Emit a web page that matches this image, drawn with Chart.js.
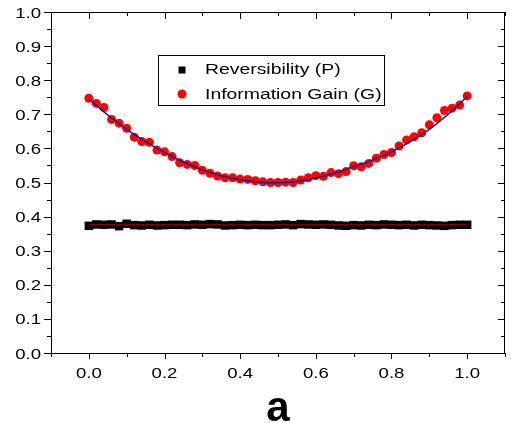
<!DOCTYPE html>
<html>
<head>
<meta charset="utf-8">
<script src="https://cdn.jsdelivr.net/npm/chart.js@4.4.0/dist/chart.umd.min.js"></script>
<style>
  body { margin: 0; background: #fff; }
  #wrap { width: 511px; height: 423px; }
</style>
</head>
<body>
<div id="wrap"><canvas id="chart"></canvas></div>
<script>
// data
const xValues = [0.00, 0.02, 0.04, 0.06, 0.08, 0.10, 0.12, 0.14, 0.16, 0.18,
                 0.20, 0.22, 0.24, 0.26, 0.28, 0.30, 0.32, 0.34, 0.36, 0.38,
                 0.40, 0.42, 0.44, 0.46, 0.48, 0.50, 0.52, 0.54, 0.56, 0.58,
                 0.60, 0.62, 0.64, 0.66, 0.68, 0.70, 0.72, 0.74, 0.76, 0.78,
                 0.80, 0.82, 0.84, 0.86, 0.88, 0.90, 0.92, 0.94, 0.96, 0.98, 1.00];

const reversibility = [0.373, 0.377, 0.376, 0.377, 0.372, 0.379, 0.375, 0.374, 0.376, 0.374,
                       0.375, 0.376, 0.376, 0.375, 0.377, 0.376, 0.378, 0.377, 0.374, 0.375,
                       0.376, 0.375, 0.376, 0.375, 0.375, 0.376, 0.377, 0.375, 0.378, 0.377,
                       0.376, 0.377, 0.376, 0.374, 0.373, 0.375, 0.374, 0.376, 0.375, 0.377,
                       0.376, 0.375, 0.376, 0.374, 0.376, 0.375, 0.374, 0.373, 0.375, 0.376, 0.376];

const infoGain = [0.747, 0.732, 0.720, 0.685, 0.674, 0.659, 0.633, 0.620, 0.618, 0.595,
                  0.590, 0.576, 0.558, 0.553, 0.550, 0.536, 0.527, 0.519, 0.514, 0.514,
                  0.510, 0.509, 0.505, 0.502, 0.500, 0.500, 0.501, 0.500, 0.507, 0.514,
                  0.520, 0.518, 0.529, 0.526, 0.532, 0.549, 0.546, 0.556, 0.571, 0.582,
                  0.588, 0.607, 0.625, 0.634, 0.646, 0.669, 0.690, 0.711, 0.718, 0.727, 0.754];

// fitted curves
const fitX = [0, 0.05, 0.1, 0.15, 0.2, 0.25, 0.3, 0.35, 0.4, 0.45, 0.5,
              0.55, 0.6, 0.65, 0.7, 0.75, 0.8, 0.85, 0.9, 0.95, 1.0];
const gainFit = [0.745, 0.698, 0.656, 0.620, 0.588, 0.560, 0.537, 0.520, 0.508, 0.501, 0.499,
                 0.503, 0.513, 0.528, 0.546, 0.566, 0.590, 0.620, 0.656, 0.700, 0.752];
const revFitX = [0, 1];
const revFit = [0.376, 0.376];

const xTicks = [0.0, 0.2, 0.4, 0.6, 0.8, 1.0];
const yTicks = [0.0, 0.1, 0.2, 0.3, 0.4, 0.5, 0.6, 0.7, 0.8, 0.9, 1.0];
const legendLabels = ["Reversibility (P)", "Information Gain (G)"];
const panelLabel = "a";

const pts = (xs, ys) => xs.map((x, i) => ({ x: x, y: ys[i] }));

// draws text stretched horizontally like the original export
function stretchedText(ctx, text, x, y, font, align, sx) {
    ctx.save();
    ctx.translate(x, y);
    ctx.scale(sx, 1);
    ctx.font = font;
    ctx.textAlign = align;
    ctx.textBaseline = "alphabetic";
    ctx.fillStyle = "#000";
    ctx.fillText(text, 0, 0);
    ctx.restore();
}

const framePlugin = {
    id: "frame",
    afterDraw(chart) {
        const ctx = chart.ctx;
        const a = chart.chartArea;
        const sx = chart.scales.x;
        const sy = chart.scales.y;
        ctx.save();
        ctx.strokeStyle = "#000";
        ctx.lineWidth = 1;
        ctx.strokeRect(Math.round(a.left) + 0.5, Math.round(a.top) + 0.5,
                       Math.round(a.right - a.left) - 1, Math.round(a.bottom - a.top));

        ctx.beginPath();
        // x ticks: major every 0.2, minor in between
        for (let v = -0.1; v <= 1.1001; v += 0.1) {
            const px = Math.round(sx.getPixelForValue(v)) + 0.5;
            const major = Math.abs(Math.round(v * 10) % 2) === 0;
            const len = major ? 6 : 4;
            ctx.moveTo(px, a.bottom); ctx.lineTo(px, a.bottom + len);
            const lt = major ? 7 : 4;
            ctx.moveTo(px, a.top); ctx.lineTo(px, a.top + lt);
        }
        // y ticks: major every 0.1, minor at 0.05
        for (let i = 0; i <= 20; i++) {
            const v = i * 0.05;
            const py = Math.round(sy.getPixelForValue(v)) + 0.5;
            const len = i % 2 === 0 ? 7 : 4;
            ctx.moveTo(a.left - len, py); ctx.lineTo(a.left, py);
            ctx.moveTo(a.right - len, py); ctx.lineTo(a.right, py);
        }
        ctx.stroke();

        // tick labels
        const tickFont = "15.5px 'Liberation Sans', Arial, sans-serif";
        xTicks.forEach(v => {
            stretchedText(ctx, v.toFixed(1), sx.getPixelForValue(v), a.bottom + 25, tickFont, "center", 1.2);
        });
        yTicks.forEach(v => {
            stretchedText(ctx, v.toFixed(1), a.left - 10, sy.getPixelForValue(v) + 5.5, tickFont, "right", 1.2);
        });

        // panel label
        ctx.font = "bold 42px 'Liberation Sans', Arial, sans-serif";
        ctx.textAlign = "center";
        ctx.fillStyle = "#000";
        ctx.fillText(panelLabel, (a.left + a.right) / 2, 421);

        // legend box
        const lx = 158.5, ly = 55.5, lw = 226, lh = 50;
        ctx.fillStyle = "#fff";
        ctx.fillRect(lx, ly, lw, lh);
        ctx.strokeRect(lx, ly, lw, lh);
        ctx.fillStyle = "#000";
        ctx.fillRect(178.5, 66.5, 7, 7);
        ctx.fillStyle = "#ff0000";
        ctx.beginPath();
        ctx.arc(182, 94, 4.5, 0, Math.PI * 2);
        ctx.fill();
        const legFont = "15.5px 'Liberation Sans', Arial, sans-serif";
        stretchedText(ctx, legendLabels[0], 205, 74, legFont, "left", 1.25);
        stretchedText(ctx, legendLabels[1], 205, 99, legFont, "left", 1.25);
        ctx.restore();
    }
};

const ctx = document.getElementById("chart").getContext("2d");

new Chart(ctx, {
    type: "scatter",
    data: {
        datasets: [
            {
                label: "Gain fit",
                data: pts(fitX, gainFit),
                showLine: true,
                borderColor: "#1a1a8c",
                borderWidth: 1.5,
                pointRadius: 0,
                cubicInterpolationMode: "monotone",
                order: 0
            },
            {
                label: "Reversibility fit",
                data: pts(revFitX, revFit),
                showLine: true,
                borderColor: "#b00000",
                borderWidth: 1,
                pointRadius: 0,
                order: 0
            },
            {
                label: legendLabels[0],
                data: pts(xValues, reversibility),
                pointStyle: "rect",
                pointRadius: 6,
                backgroundColor: "#000",
                borderWidth: 0,
                order: 1
            },
            {
                label: legendLabels[1],
                data: pts(xValues, infoGain),
                pointStyle: "circle",
                pointRadius: 4.5,
                backgroundColor: "#ff0000",
                borderWidth: 0,
                order: 1
            }
        ]
    },
    options: {
        animation: false,
        responsive: true,
        maintainAspectRatio: false,
        devicePixelRatio: 1,
        layout: { padding: { top: 12, right: 2, left: 0, bottom: 0 } },
        plugins: {
            legend: { display: false },
            tooltip: { enabled: false }
        },
        scales: {
            x: {
                type: "linear",
                min: -0.1,
                max: 1.1,
                grid: { display: false },
                border: { display: false },
                ticks: { display: false },
                afterBuildTicks: (scale) => { scale.ticks = xTicks.map(v => ({ value: v })); },
                afterFit: (scale) => { scale.height = 70; }
            },
            y: {
                type: "linear",
                min: 0,
                max: 1,
                grid: { display: false },
                border: { display: false },
                ticks: { display: false },
                afterBuildTicks: (scale) => { scale.ticks = yTicks.map(v => ({ value: v })); },
                afterFit: (scale) => { scale.width = 51; }
            }
        }
    },
    plugins: [framePlugin]
});
</script>
</body>
</html>
